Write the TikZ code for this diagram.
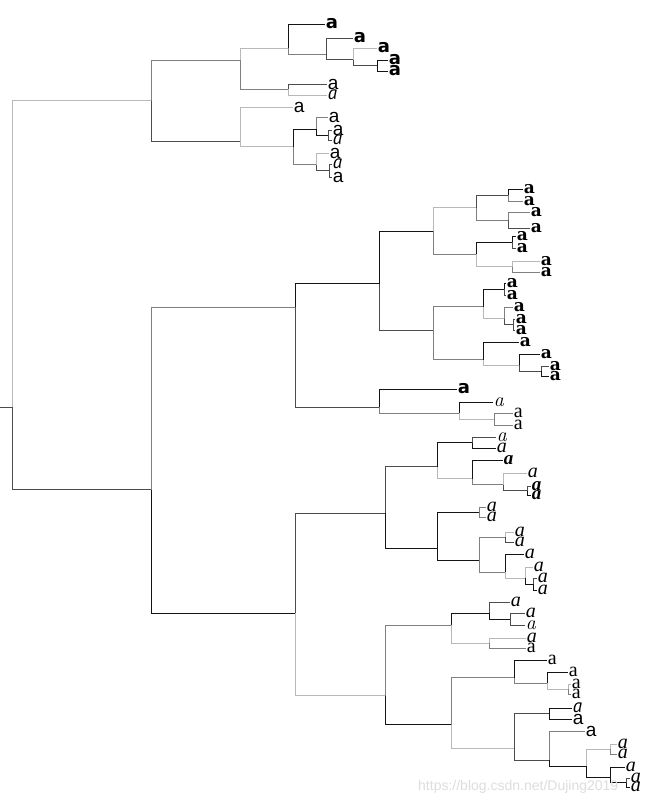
\documentclass[tikz,border=0pt]{standalone}
\usepackage{fontspec}
\newfontfamily\fA{DejaVu Sans}
\newfontfamily\fB{Liberation Sans}
\newfontfamily\fC{Liberation Serif}
\newfontfamily\fE{DejaVu Serif}
\newfontfamily\fI{PT Sans}
\colorlet{k1}{black!92}
\colorlet{k2}{black!70}
\colorlet{k3}{black!50}
\colorlet{k4}{black!28}
\newcommand\sz[1]{\fontsize{#1}{#1}\selectfont}
\tikzset{
  lab/.style={anchor=west,inner sep=0.6pt},
  edge/.style={line width=0.8pt},
  sA/.style={font=\fA\bfseries\sz{18}},
  sB/.style={font=\fB\sz{19}},
  sC/.style={font=\fC\itshape\sz{20}},
  sD/.style={font=\fC\sz{20}},
  sE/.style={font=\fE\bfseries\sz{17}},
  sF/.style={font=\rmfamily\itshape\sz{20}},
  sG/.style={font=\fC\bfseries\itshape\sz{19}},
  sH/.style={font=\fC\sz{20}},
  sI/.style={font=\fI\itshape\sz{19}}
}
\newcommand\leaf[4]{\coordinate (#1) at (#2,#3); \node[lab,#4] (#1t) at (#1) {a};}
\newcommand\nd[3]{\coordinate (#1) at (#2,#3);}
\newcommand\ed[3]{\draw[edge,#1] (#2) |- (#3);}
\begin{document}
\begin{tikzpicture}[x=1pt,y=-1pt]
\fill[white] (0,0) rectangle (655,805);
\useasboundingbox (0,0) rectangle (655,805);
% internal nodes
\nd{root}{12}{407.2}\coordinate (stub) at (0,407.2);
\nd{T}{151}{100.6}\nd{B1}{240}{60}\nd{Na}{288}{48.2}\nd{Nb}{326}{54.25}\nd{Nc}{353}{59.7}\nd{Nd}{377}{65.5}\nd{Ne}{288}{89.5}
\nd{B2}{240}{141.1}\nd{Nf}{293}{146.8}\nd{Ng}{316}{129}\nd{Nh}{328}{135}\nd{Ni}{316}{164.7}\nd{Nj}{329}{170.5}
\nd{M}{151}{489.7}\nd{U}{295}{307}\nd{X1}{379}{283.5}\nd{X1a}{433}{230.9}\nd{P1}{476}{207.5}\nd{P1a}{508}{195}\nd{P1b}{508}{220}
\nd{P2}{476}{254.25}\nd{P2a}{512}{242}\nd{P2b}{512}{266.5}
\nd{X1b}{433}{330.2}\nd{Q1}{483}{306.8}\nd{Q1a}{504}{289}\nd{Q1b}{504}{318.7}\nd{Q1c}{513}{324.5}
\nd{Q2}{483}{359.5}\nd{Q2a}{519}{365.3}\nd{Q2b}{541}{371}
\nd{X2}{379}{407.25}\nd{R1}{459}{413.3}\nd{R1a}{494}{419}
\nd{V}{295}{613.4}\nd{Y1}{385}{513.3}\nd{S1}{437}{466.5}\nd{S1a}{472}{442.5}\nd{S1b}{472}{478.5}\nd{S1c}{503}{484.7}\nd{S1d}{527}{490.5}
\nd{S2}{437}{548.4}\nd{S2a}{479}{512}\nd{S2b}{479}{560.5}\nd{S2c}{505}{537}\nd{S2d}{505}{572.25}\nd{S2e}{525}{578.3}\nd{S2f}{533}{584}
\nd{Y2}{385}{695.5}\nd{W1}{451}{625.2}\nd{W1a}{489}{613.3}\nd{W1b}{510}{619}\nd{W1c}{489}{643}
\nd{W2}{451}{724.8}\nd{W2a}{514}{677.5}\nd{W2b}{547}{683.3}\nd{W2c}{568}{689}
\nd{W2d}{514}{748.5}\nd{W2e}{549}{713.5}\nd{W2f}{549}{760.2}\nd{W2g}{586}{766}\nd{W2h}{610}{749}\nd{W2i}{610}{777.3}\nd{W2j}{626}{782.5}
% leaves
\leaf{l1}{325}{24}{sA}\leaf{l2}{353}{38}{sA}\leaf{l3}{377}{48}{sA}\leaf{l4}{388}{60}{sA}\leaf{l5}{388}{71}{sA}
\leaf{l6}{327}{84}{sB}\leaf{l7}{327}{95}{sI}\leaf{l8}{293}{107}{sB}\leaf{l9}{328}{117}{sB}\leaf{l10}{332}{130}{sB}
\leaf{l11}{332}{140}{sI}\leaf{l12}{329}{153}{sB}\leaf{l13}{332}{164}{sI}\leaf{l14}{332}{177}{sB}
\leaf{m1}{523}{189}{sE}\leaf{m2}{523}{201}{sE}\leaf{m3}{530}{212}{sE}\leaf{m4}{530}{228}{sE}\leaf{m5}{516}{236}{sE}
\leaf{m6}{516}{248}{sE}\leaf{m7}{540}{261}{sE}\leaf{m8}{540}{272}{sE}\leaf{m9}{506}{283}{sE}\leaf{m10}{506}{295}{sE}
\leaf{m11}{513}{307}{sE}\leaf{m12}{515}{319}{sE}\leaf{m13}{515}{330}{sE}\leaf{m14}{519}{342}{sE}\leaf{m15}{540}{354}{sE}
\leaf{m16}{549}{366}{sE}\leaf{m17}{549}{376}{sE}\leaf{m18}{457}{389}{sA}\leaf{m19}{493}{402}{sF}\leaf{m20}{513}{413}{sD}\leaf{m21}{513}{425}{sD}
\leaf{n1}{496}{437}{sF}\leaf{n2}{496}{448}{sC}\leaf{n3}{503}{460}{sG}\leaf{n4}{527}{473}{sC}\leaf{n5}{531}{486}{sG}\leaf{n6}{531}{495}{sG}
\leaf{n7}{486}{507}{sC}\leaf{n8}{486}{517}{sC}\leaf{n9}{514}{532}{sC}\leaf{n10}{514}{542}{sC}\leaf{n11}{524}{554}{sC}
\leaf{n12}{533}{567}{sC}\leaf{n13}{537}{578}{sC}\leaf{n14}{537}{590}{sC}
\leaf{o1}{510}{602}{sC}\leaf{o2}{525}{613}{sC}\leaf{o3}{525}{625}{sF}\leaf{o4}{526}{638}{sC}\leaf{o5}{526}{648}{sD}
\leaf{o6}{547}{660}{sH}\leaf{o7}{568}{672}{sH}\leaf{o8}{571}{684}{sH}\leaf{o9}{571}{694}{sH}\leaf{o10}{572}{708}{sI}
\leaf{o11}{572}{719}{sB}\leaf{o12}{585}{731}{sB}\leaf{o13}{617}{744}{sC}\leaf{o14}{617}{754}{sC}\leaf{o15}{625}{767}{sC}
\leaf{o16}{630}{778}{sC}\leaf{o17}{630}{787}{sC}
% edges
\draw[edge,k2] (stub) -- (root);
\ed{k4}{root}{T}\ed{k2}{root}{M}
\ed{k3}{T}{B1}\ed{k2}{T}{B2}
\ed{k4}{B1}{Na}\ed{k3}{B1}{Ne}
\ed{k1}{Na}{l1}\ed{k3}{Na}{Nb}\ed{k2}{Nb}{l2}\ed{k2}{Nb}{Nc}\ed{k4}{Nc}{l3}\ed{k2}{Nc}{Nd}\ed{k1}{Nd}{l4}\ed{k1}{Nd}{l5}
\ed{k2}{Ne}{l6}\ed{k4}{Ne}{l7}
\ed{k4}{B2}{l8}\ed{k4}{B2}{Nf}\ed{k1}{Nf}{Ng}\ed{k3}{Ng}{l9}\ed{k1}{Ng}{Nh}\ed{k2}{Nh}{l10}\ed{k2}{Nh}{l11}
\ed{k3}{Nf}{Ni}\ed{k4}{Ni}{l12}\ed{k2}{Ni}{Nj}\ed{k2}{Nj}{l13}\ed{k2}{Nj}{l14}
\ed{k3}{M}{U}\ed{k1}{M}{V}
\ed{k1}{U}{X1}\ed{k2}{U}{X2}
\ed{k1}{X1}{X1a}\ed{k2}{X1}{X1b}
\ed{k4}{X1a}{P1}\ed{k3}{X1a}{P2}
\ed{k2}{P1}{P1a}\ed{k1}{P1a}{m1}\ed{k3}{P1a}{m2}\ed{k3}{P1}{P1b}\ed{k3}{P1b}{m3}\ed{k2}{P1b}{m4}
\ed{k1}{P2}{P2a}\ed{k1}{P2a}{m5}\ed{k2}{P2a}{m6}\ed{k4}{P2}{P2b}\ed{k4}{P2b}{m7}\ed{k3}{P2b}{m8}
\ed{k3}{X1b}{Q1}\ed{k1}{Q1}{Q1a}\ed{k1}{Q1a}{m9}\ed{k2}{Q1a}{m10}\ed{k4}{Q1}{Q1b}\ed{k3}{Q1b}{m11}\ed{k2}{Q1b}{Q1c}\ed{k2}{Q1c}{m12}\ed{k2}{Q1c}{m13}
\ed{k3}{X1b}{Q2}\ed{k1}{Q2}{m14}\ed{k4}{Q2}{Q2a}\ed{k1}{Q2a}{m15}\ed{k2}{Q2a}{Q2b}\ed{k2}{Q2b}{m16}\ed{k1}{Q2b}{m17}
\ed{k1}{X2}{m18}\ed{k3}{X2}{R1}\ed{k1}{R1}{m19}\ed{k4}{R1}{R1a}\ed{k3}{R1a}{m20}\ed{k3}{R1a}{m21}
\ed{k2}{V}{Y1}\ed{k4}{V}{Y2}
\ed{k2}{Y1}{S1}\ed{k1}{Y1}{S2}
\ed{k1}{S1}{S1a}\ed{k2}{S1a}{n1}\ed{k1}{S1a}{n2}\ed{k4}{S1}{S1b}\ed{k1}{S1b}{n3}\ed{k3}{S1b}{S1c}\ed{k4}{S1c}{n4}\ed{k2}{S1c}{S1d}\ed{k2}{S1d}{n5}\ed{k1}{S1d}{n6}
\ed{k1}{S2}{S2a}\ed{k3}{S2a}{n7}\ed{k3}{S2a}{n8}\ed{k1}{S2}{S2b}\ed{k3}{S2b}{S2c}\ed{k4}{S2c}{n9}\ed{k2}{S2c}{n10}
\ed{k3}{S2b}{S2d}\ed{k1}{S2d}{n11}\ed{k4}{S2d}{S2e}\ed{k4}{S2e}{n12}\ed{k1}{S2e}{S2f}\ed{k2}{S2f}{n13}\ed{k1}{S2f}{n14}
\ed{k3}{Y2}{W1}\ed{k1}{Y2}{W2}
\ed{k1}{W1}{W1a}\ed{k2}{W1a}{o1}\ed{k1}{W1a}{W1b}\ed{k2}{W1b}{o2}\ed{k2}{W1b}{o3}\ed{k4}{W1}{W1c}\ed{k4}{W1c}{o4}\ed{k3}{W1c}{o5}
\ed{k3}{W2}{W2a}\ed{k1}{W2a}{o6}\ed{k3}{W2a}{W2b}\ed{k1}{W2b}{o7}\ed{k4}{W2b}{W2c}\ed{k4}{W2c}{o8}\ed{k3}{W2c}{o9}
\ed{k4}{W2}{W2d}\ed{k2}{W2d}{W2e}\ed{k1}{W2e}{o10}\ed{k1}{W2e}{o11}\ed{k2}{W2d}{W2f}\ed{k3}{W2f}{o12}\ed{k1}{W2f}{W2g}
\ed{k4}{W2g}{W2h}\ed{k4}{W2h}{o13}\ed{k3}{W2h}{o14}\ed{k1}{W2g}{W2i}\ed{k1}{W2i}{o15}\ed{k1}{W2i}{W2j}\ed{k2}{W2j}{o16}\ed{k1}{W2j}{o17}
% watermark
\node[anchor=west,inner sep=0pt,text=black!13,font=\fB\sz{14}] (wm) at (418,787) {https://blog.csdn.net/Dujing2019};
\end{tikzpicture}
\end{document}
